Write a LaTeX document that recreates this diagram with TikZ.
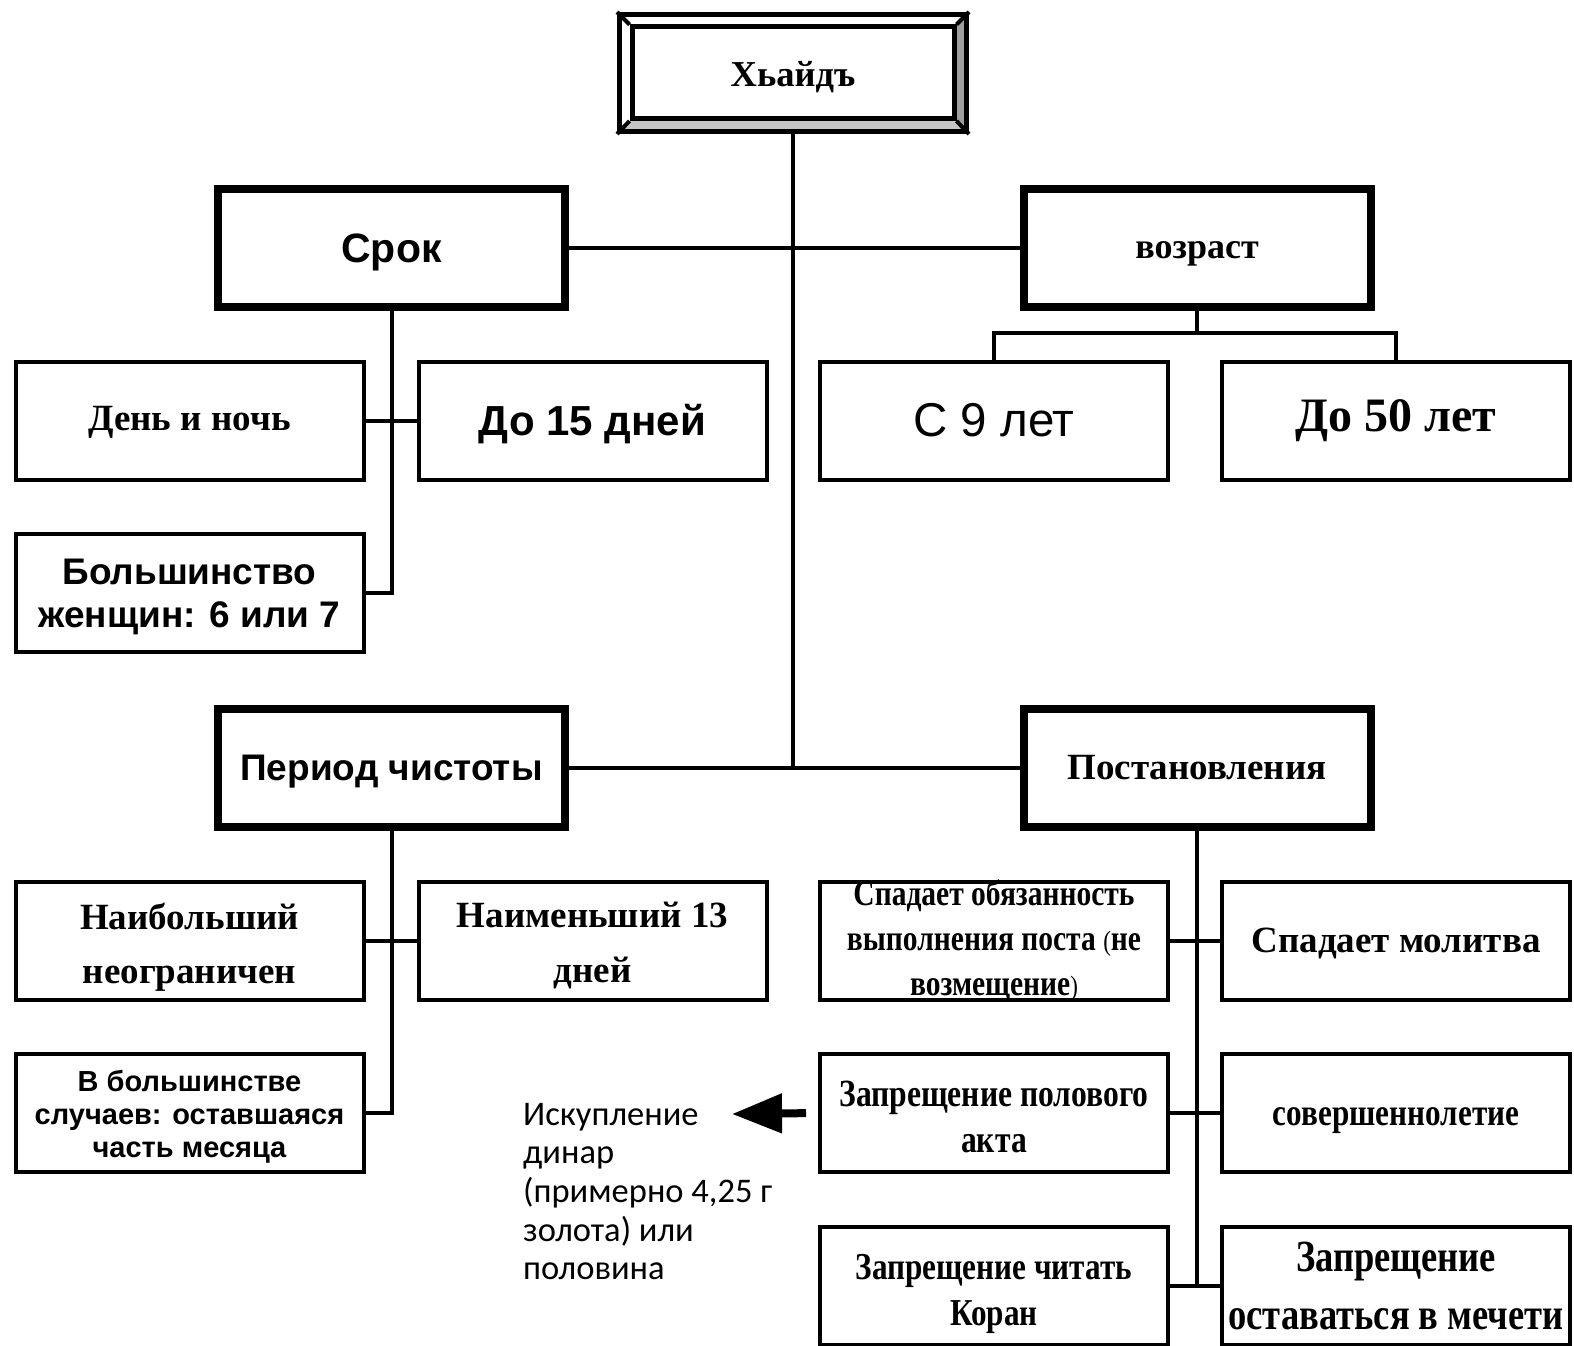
\documentclass[tikz,border=0pt]{standalone}
\usepackage{fontspec}
\setmainfont{Liberation Serif}
\newfontfamily\arialf{Liberation Sans}
\newfontfamily\condf[FakeStretch=0.82]{Liberation Serif}
\newfontfamily\calf{Carlito}
\usetikzlibrary{arrows.meta}
\newcommand{\fs}[2]{\fontsize{#1}{#2}\selectfont}
% box node #2 of style #1 at #3; its text node #2t with font #4, shifted by #5
\newcommand{\bx}[6]{%
  \node[#1] (#2) at (#3) {};
  \node[align=center,inner sep=0pt,font=#4,yshift=#5] (#2t) at (#2.center) {#6};}
\begin{document}
\begin{tikzpicture}[x=1pt,y=-1pt,
  thinbox/.style={draw,line width=4pt,minimum width=348pt,minimum height=118pt,inner sep=0pt},
  thickbox/.style={draw,line width=8pt,minimum width=347pt,minimum height=118pt,inner sep=0pt},
  conn/.style={line width=4pt},
]
\clip (0,0) rectangle (1574,1346);
\fill[white] (0,0) rectangle (1574,1346);
% top bevel box
\fill[gray!45] (619.5,131.5) -- (632,118.5) -- (954,118.5) -- (966.5,131.5) -- cycle;
\fill[gray!75] (966.5,14.5) -- (954,27) -- (954,118.5) -- (966.5,131.5) -- cycle;
\node[draw,line width=5pt,minimum width=347pt,minimum height=117pt,inner sep=0pt] (topo) at (793,73) {};
\bx{draw,line width=5pt,minimum width=322pt,minimum height=91.5pt,inner sep=0pt}{top}{793,72.75}{\bfseries\fs{36.5}{42}}{-4pt}{Хьайдъ}
\draw[line width=4pt] (topo.north west) -- (top.north west);
\draw[line width=4pt] (topo.north east) -- (top.north east);
\draw[line width=4pt] (topo.south west) -- (top.south west);
\draw[line width=4pt] (topo.south east) -- (top.south east);

% level 2
\bx{thickbox}{srok}{391.5,248}{\arialf\bfseries\fs{41}{48}}{-4pt}{Срок}
\bx{thickbox}{voz}{1197,248}{\bfseries\fs{36}{42}}{-6pt}{возраст}
\bx{thickbox}{per}{391.5,768}{\arialf\bfseries\fs{37}{42}}{-4pt}{Период чистоты}
\bx{thickbox}{post}{1197,768}{\bfseries\fs{37}{42}}{0pt}{Постановления}

% leaves
\bx{thinbox}{den}{189.5,420.5}{\bfseries\fs{37}{42}}{-2pt}{День и ночь}
\bx{thinbox}{d15}{592.5,420.5}{\arialf\bfseries\fs{42}{48}}{-4pt}{До 15 дней}
\bx{thinbox}{bol}{189.5,593}{\arialf\bfseries\fs{37}{43}}{-4pt}{Большинство\\женщин: 6 или 7}
\bx{thinbox}{c9}{994,420.5}{\arialf\fs{47.5}{54}}{0pt}{С 9 лет}
\bx{thinbox}{d50}{1396,420.5}{\bfseries\fs{48}{54}}{0pt}{До 50 лет}

\bx{thinbox}{naib}{189.5,941}{\bfseries\fs{37}{54}}{-6pt}{Наибольший\\неограничен}
\bx{thinbox}{naim}{592.5,941}{\bfseries\fs{37}{55}}{-4pt}{Наименьший 13\\дней}
\bx{thinbox}{vbol}{189.5,1113}{\arialf\bfseries\fs{29}{33}}{-4pt}{В большинстве\\случаев: оставшаяся\\часть месяца}

\bx{thinbox}{spo}{994,941}{\condf\bfseries\fs{36}{45}}{0pt}{Спадает обязанность\\выполнения поста {\mdseries\fs{28}{45}(}не\\возмещение{\mdseries\fs{28}{45})}}
\bx{thinbox}{spm}{1396,941}{\bfseries\fs{37}{44}}{-2pt}{Спадает молитва}
\bx{thinbox}{zpa}{994,1113}{\condf\bfseries\fs{38.5}{46}}{-4pt}{Запрещение полового\\акта}
\bx{thinbox}{sov}{1396,1113}{\condf\bfseries\fs{38}{44}}{-8pt}{совершеннолетие}
\bx{thinbox}{zck}{994,1286}{\condf\bfseries\fs{38}{46}}{-8pt}{Запрещение читать\\Коран}
\bx{thinbox}{zom}{1396,1286}{\condf\bfseries\fs{44.5}{58}}{0pt}{Запрещение\\оставаться в мечети}

\node[anchor=north west,align=left,inner sep=0pt,font=\calf\fs{34.5}{38.6}] (isk) at (523,1103) {Искупление\\динар\\(примерно 4,25 г\\золота) или\\половина};

% connectors
\coordinate (hub2) at (793,768);
\draw[conn] (topo.south) -- (hub2);
\draw[conn] (srok.east) -- (voz.west);
\draw[conn] (per.east) -- (post.west);

\draw[conn] (srok.south) -- (srok.south |- bol.east) -- (bol.east);
\draw[conn] (den.east) -- (d15.west);

\coordinate (vb) at (1197,333);
\draw[conn] (voz.south) -- (vb);
\draw[conn] (c9.north) -- (c9.north |- vb) -- (d50.north |- vb) -- (d50.north);

\draw[conn] (per.south) -- (per.south |- vbol.east) -- (vbol.east);
\draw[conn] (naib.east) -- (naim.west);

\draw[conn] (post.south) -- (post.south |- zck.east);
\draw[conn] (spo.east) -- (spm.west);
\draw[conn] (zpa.east) -- (sov.west);
\draw[conn] (zck.east) -- (zom.west);

\coordinate (tip) at (732,1114);
\draw[line width=8pt,-{Triangle[length=50pt,width=38pt]},shorten <=12pt] (zpa.west) -- (tip);
\end{tikzpicture}
\end{document}
